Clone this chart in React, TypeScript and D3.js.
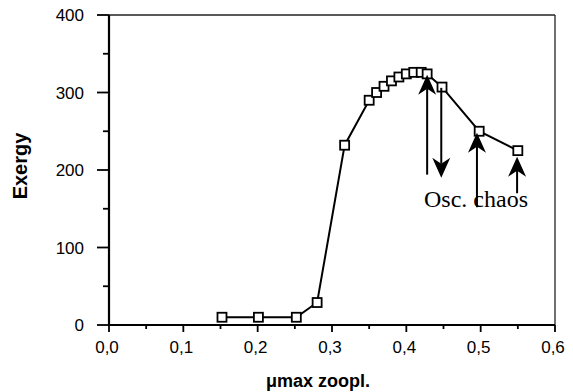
import React from "react";
import * as d3 from "d3";

const xValues = [0.152, 0.201, 0.252, 0.28, 0.317, 0.35, 0.36, 0.37, 0.38, 0.39, 0.40, 0.41, 0.42, 0.428, 0.448, 0.498, 0.55];
const yValues = [10, 10, 10, 29, 232, 290, 300, 308, 315, 320, 324, 326, 326, 324, 307, 250, 225];
const xTicks = [0, 0.1, 0.2, 0.3, 0.4, 0.5, 0.6];
const xMinorTicks = [0.05, 0.15, 0.25, 0.35, 0.45, 0.55];
const yTicks = [0, 100, 200, 300, 400];
const yMinorTicks = [50, 150, 250, 350];
// annotation arrows: x, from y, to y (arrow head at "to")
const arrowX = [0.428, 0.447, 0.495, 0.549];
const arrowFrom = [194, 306, 152, 170];
const arrowTo = [323, 190, 248, 217];

export default function App() {
  const W = 573, H = 392;
  const x = d3.scaleLinear().domain([0, 0.6]).range([109, 555]);
  const y = d3.scaleLinear().domain([0, 400]).range([325, 15]);
  const pts = xValues.map((v, i) => [v, yValues[i]] as [number, number]);
  const line = d3.line<[number, number]>().x(d => x(d[0])).y(d => y(d[1]));
  const fmt = (v: number) => v.toFixed(1).replace(".", ",");
  const tickFont = "'Liberation Sans', Arial, sans-serif";
  return (
    <svg width={W} height={H} style={{ position: "absolute", left: 0, top: 0, background: "#fff" }}>
      <rect x={0} y={0} width={W} height={H} fill="#fff" />
      {/* frame */}
      <line x1={x(0)} x2={x(0.6)} y1={y(400)} y2={y(400)} stroke="#222" strokeWidth={1.3} />
      <line x1={x(0.6)} x2={x(0.6)} y1={y(400)} y2={y(0)} stroke="#222" strokeWidth={1.3} />
      <line x1={x(0)} x2={x(0)} y1={y(400)} y2={y(0)} stroke="#000" strokeWidth={2.2} />
      <line x1={x(0)} x2={x(0.6)} y1={y(0)} y2={y(0)} stroke="#000" strokeWidth={2.2} />
      {/* y ticks */}
      {yTicks.map(t => (
        <g key={"y" + t}>
          <line x1={x(0) - 12} x2={x(0)} y1={y(t)} y2={y(t)} stroke="#000" strokeWidth={1.8} />
          <text x={84} y={y(t)} dy="0.36em" textAnchor="end" fontFamily={tickFont} fontSize={17}>{t}</text>
        </g>
      ))}
      {yMinorTicks.map(t => (
        <line key={"ym" + t} x1={x(0) - 6} x2={x(0)} y1={y(t)} y2={y(t)} stroke="#000" strokeWidth={1.8} />
      ))}
      {/* x ticks */}
      {xTicks.map(t => (
        <g key={"x" + t}>
          <line x1={x(t)} x2={x(t)} y1={y(0)} y2={y(0) + 7} stroke="#000" strokeWidth={1.8} />
          <text x={x(t) - 2} y={353} textAnchor="middle" fontFamily={tickFont} fontSize={17}>{fmt(t)}</text>
        </g>
      ))}
      {xMinorTicks.map(t => (
        <line key={"xm" + t} x1={x(t)} x2={x(t)} y1={y(0)} y2={y(0) + 4} stroke="#000" strokeWidth={1.8} />
      ))}
      {/* axis titles */}
      <text x={318} y={387} textAnchor="middle" fontFamily={tickFont} fontWeight="bold" fontSize={18}>μmax zoopl.</text>
      <text transform={`translate(27,166) rotate(-90)`} textAnchor="middle" fontFamily={tickFont} fontWeight="bold" fontSize={20}>Exergy</text>
      {/* data line */}
      <path d={line(pts) || ""} fill="none" stroke="#000" strokeWidth={2} />
      {pts.map((p, i) => (
        <rect key={"p" + i} x={x(p[0]) - 4.5} y={y(p[1]) - 4.5} width={9} height={9} fill="#fff" stroke="#000" strokeWidth={1.8} />
      ))}
      {/* arrows */}
      {arrowX.map((ax, i) => {
        const x0 = x(ax), y0 = y(arrowFrom[i]), y1 = y(arrowTo[i]);
        const dir = y1 < y0 ? 1 : -1; // 1 => pointing up
        const hl = 20, hw = 9;
        const baseY = y1 + dir * hl;
        const notch = y1 + dir * (hl - 6);
        return (
          <g key={"a" + i}>
            <line x1={x0} x2={x0} y1={y0} y2={notch} stroke="#000" strokeWidth={2} />
            <path d={`M${x0},${y1} L${x0 + hw},${baseY} L${x0},${notch} L${x0 - hw},${baseY} Z`} fill="#000" />
          </g>
        );
      })}
      <text x={424} y={207} fontFamily="'Liberation Serif', 'Times New Roman', serif" fontSize={24}>Osc. chaos</text>
    </svg>
  );
}
